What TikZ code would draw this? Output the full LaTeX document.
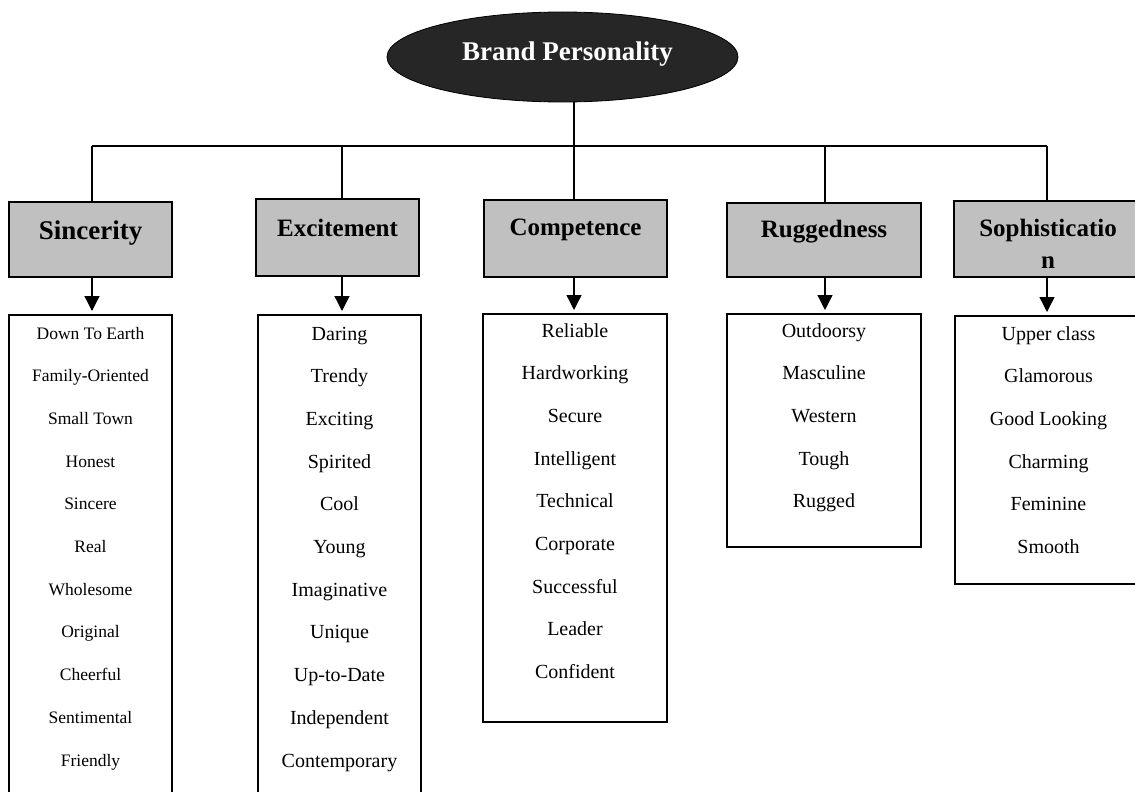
\documentclass[tikz,border=0pt]{standalone}
\usepackage{fontspec}
\setmainfont{Liberation Serif}
\usetikzlibrary{shapes.geometric,arrows.meta,calc}
\definecolor{hdrgray}{HTML}{C0C0C0}
\definecolor{ovaldark}{HTML}{262626}
\tikzset{
  conn/.style={line width=1.3pt, draw=black},
  arr/.style={conn, -{Triangle[width=15pt,length=15pt]}, shorten >=3pt},
  hdr/.style={draw=black, line width=1.8pt, fill=hdrgray, rectangle, inner sep=0pt,
    font=\bfseries\fontsize{25}{30}\selectfont},
  listbox/.style={draw=black, line width=1.8pt, rectangle, inner sep=0pt, anchor=north},
  item/.style={anchor=base, inner sep=0pt, font=\fontsize{20}{24}\selectfont},
  smallitem/.style={item, font=\fontsize{17.5}{21}\selectfont}
}
\begin{document}
\begin{tikzpicture}[x=1pt,y=-1pt]
\useasboundingbox (0,0) rectangle (1135,792);
\clip (0,0) rectangle (1135,792);

% top oval
\node[ellipse, draw=black, line width=0.8pt, fill=ovaldark, inner sep=0pt,
  minimum width=351pt, minimum height=90pt,
  label={[text=white, inner sep=0pt, anchor=base, xshift=5pt, yshift=3pt,
    font=\bfseries\fontsize{27}{32}\selectfont]center:Brand Personality}] (bp) at (562.5,57) {};

% junctions
\coordinate (j0) at (574,146);
\coordinate (j1) at (92,146);
\coordinate (j2) at (342,146);
\coordinate (j4) at (825,146);
\coordinate (j5) at (1047,146);

% header boxes
\node[hdr, minimum width=163pt, minimum height=75pt, text height=37pt, text depth=38pt,
  font=\bfseries\fontsize{27}{32}\selectfont] (h1) at (90.5,239.5) {Sincerity};
\node[hdr, minimum width=163pt, minimum height=77pt, text height=37pt, text depth=40pt] (h2) at (337.5,237.5) {Excitement};
\node[hdr, minimum width=183pt, minimum height=77pt, text height=35pt, text depth=42pt] (h3) at (575.5,238.5) {Competence};
\node[hdr, minimum width=194pt, minimum height=74pt, text height=34pt, text depth=40pt] (h4) at (824,240) {Ruggedness};
\node[hdr, minimum width=188pt, minimum height=76pt,
  label={[font=\bfseries\fontsize{25}{32}\selectfont, align=center, inner sep=0pt, yshift=-5pt]center:Sophisticatio\\n}] (h5) at (1048,239) {};

% list boxes
\node[listbox, minimum width=163pt, minimum height=520pt] (l1) at (90.5,314) {};
\node[listbox, minimum width=163pt, minimum height=520pt] (l2) at (339.5,314) {};
\node[listbox, minimum width=184pt, minimum height=408pt] (l3) at (575,313) {};
\node[listbox, minimum width=194pt, minimum height=233pt] (l4) at (824,313) {};
\node[listbox, minimum width=187pt, minimum height=268pt] (l5) at (1048.5,315) {};

% items
\foreach \t [count=\i from 0] in {Down To Earth,Family-Oriented,Small Town,Honest,Sincere,Real,Wholesome,Original,Cheerful,Sentimental,Friendly}
  \node[smallitem] (a\i) at ($(l1.north)+(0,{25+42.7*\i})$) {\t};
\foreach \t [count=\i from 0] in {Daring,Trendy,Exciting,Spirited,Cool,Young,Imaginative,Unique,Up-to-Date,Independent,Contemporary}
  \node[item] (b\i) at ($(l2.north)+(0,{26+42.7*\i})$) {\t};
\foreach \t [count=\i from 0] in {Reliable,Hardworking,Secure,Intelligent,Technical,Corporate,Successful,Leader,Confident}
  \node[item] (c\i) at ($(l3.north)+(0,{24+42.7*\i})$) {\t};
\foreach \t [count=\i from 0] in {Outdoorsy,Masculine,Western,Tough,Rugged}
  \node[item] (d\i) at ($(l4.north)+(0,{24+42.7*\i})$) {\t};
\foreach \t [count=\i from 0] in {Upper class,Glamorous,Good Looking,Charming,Feminine,Smooth}
  \node[item] (e\i) at ($(l5.north)+(0,{25+42.7*\i})$) {\t};

% connectors
\draw[conn] (bp.south -| j0) -- (j0);
\draw[conn] (j1) -- (j5);
\draw[conn] (j1) -- (j1 |- h1.north);
\draw[conn] (j2) -- (j2 |- h2.north);
\draw[conn] (j0) -- (j0 |- h3.north);
\draw[conn] (j4) -- (j4 |- h4.north);
\draw[conn] (j5) -- (j5 |- h5.north);

\draw[arr] (j1 |- h1.south) -- (j1 |- l1.north);
\draw[arr] (j2 |- h2.south) -- (j2 |- l2.north);
\draw[arr] (j0 |- h3.south) -- (j0 |- l3.north);
\draw[arr] (j4 |- h4.south) -- (j4 |- l4.north);
\draw[arr] (j5 |- h5.south) -- (j5 |- l5.north);
\end{tikzpicture}
\end{document}
